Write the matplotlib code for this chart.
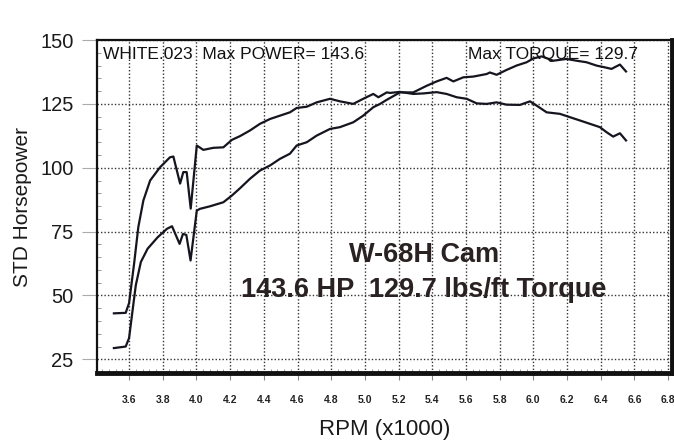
import numpy as np
import matplotlib
matplotlib.use('Agg')
import matplotlib.pyplot as plt
from matplotlib.ticker import MultipleLocator

plt.rcParams['font.family'] = ['Liberation Sans', 'DejaVu Sans']

# 扭矩曲线 (rpm x1000, lbs/ft)
torque_rpm = [3.51, 3.58, 3.60, 3.63, 3.655, 3.685, 3.725, 3.784, 3.843, 3.863,
              3.903, 3.922, 3.942, 3.966, 4.002, 4.041, 4.10, 4.16, 4.21, 4.259,
              4.318, 4.377, 4.437, 4.496, 4.555, 4.595, 4.655, 4.714, 4.793, 4.852,
              4.931, 4.99, 5.05, 5.08, 5.13, 5.149, 5.208, 5.287, 5.347, 5.426,
              5.485, 5.545, 5.604, 5.664, 5.723, 5.782, 5.841, 5.92, 5.98, 6.02,
              6.079, 6.158, 6.217, 6.277, 6.336, 6.395, 6.435, 6.474, 6.514, 6.55]
torque_val = [43.0, 43.2, 47.0, 62.5, 76.8, 87.2, 95.0, 100.2, 104.1, 104.4,
              93.8, 98.3, 98.3, 84.0, 108.7, 107.0, 107.8, 108.0, 110.9, 112.4,
              114.6, 117.2, 119.1, 120.4, 121.7, 123.4, 123.9, 125.6, 127.0, 126.0,
              125.0, 127.0, 128.9, 127.6, 129.5, 129.3, 129.7, 128.9, 129.1, 129.6,
              128.9, 127.6, 127.0, 125.2, 125.0, 125.6, 124.7, 124.6, 126.0, 124.3,
              121.7, 121.1, 119.8, 118.5, 117.2, 115.9, 113.9, 112.2, 113.5, 110.7]

# 功率曲线 (rpm x1000, HP)
power_rpm = [3.51, 3.58, 3.60, 3.62, 3.64, 3.67, 3.71, 3.77, 3.825, 3.855,
             3.90, 3.92, 3.94, 3.965, 4.002, 4.02, 4.08, 4.16, 4.21, 4.259,
             4.318, 4.377, 4.437, 4.496, 4.555, 4.595, 4.655, 4.714, 4.793, 4.852,
             4.931, 4.99, 5.05, 5.09, 5.13, 5.208, 5.287, 5.367, 5.426, 5.485,
             5.525, 5.584, 5.644, 5.723, 5.742, 5.782, 5.841, 5.90, 5.96, 6.00,
             6.05, 6.118, 6.197, 6.257, 6.316, 6.375, 6.425, 6.464, 6.514, 6.55]
power_val = [29.4, 30.0, 33.3, 43.7, 54.0, 63.1, 68.3, 72.8, 76.1, 77.1,
             70.2, 74.1, 73.7, 63.7, 83.2, 83.9, 84.9, 86.5, 89.1, 92.0,
             95.7, 98.9, 100.9, 103.5, 105.5, 108.7, 110.0, 112.6, 115.2, 115.9,
             117.8, 120.4, 123.7, 125.0, 126.6, 129.5, 129.5, 132.1, 133.8, 135.2,
             133.8, 135.4, 135.7, 136.7, 137.3, 136.4, 138.3, 140.0, 141.3, 142.8,
             143.6, 141.9, 142.6, 141.9, 141.3, 140.0, 139.3, 138.7, 140.4, 137.7]

x_ticks = [3.6, 3.8, 4.0, 4.2, 4.4, 4.6, 4.8, 5.0, 5.2, 5.4, 5.6, 5.8, 6.0, 6.2, 6.4, 6.6, 6.8]
y_ticks = [25, 50, 75, 100, 125, 150]

fig = plt.figure(figsize=(6.74, 4.4), dpi=100)
ax = fig.add_axes([0.144, 0.152, 0.853, 0.757])

line_color = '#15151f'
ax.plot(torque_rpm, torque_val, color=line_color, linewidth=1.6)
ax.plot(power_rpm, power_val, color=line_color, linewidth=1.6)

ax.set_xlim(3.41, 6.823)
ax.set_ylim(19.6, 150)
ax.set_xticks(x_ticks)
ax.set_xticklabels([f'{v:.1f}' for v in x_ticks], fontsize=7.5, fontweight='bold', color='#222222')
ax.set_yticks(y_ticks)
ax.set_yticklabels([str(v) for v in y_ticks], fontsize=14.5, color='#1a1a1a')
ax.xaxis.set_minor_locator(MultipleLocator(0.04))
ax.yaxis.set_minor_locator(MultipleLocator(5))

# 点状网格
ax.grid(True, which='major', linestyle=(0, (1, 1.5)), color='#333333', linewidth=1.0)
ax.tick_params(axis='x', which='major', length=5, pad=11, color='#888888')
ax.tick_params(axis='y', which='major', length=11, width=0.8, pad=6, color='#aaaaaa')
ax.tick_params(which='minor', direction='in', length=3, color='#888888', width=0.6)
ax.tick_params(axis='x', which='minor', top=False)

for side in ['top', 'left']:
    ax.spines[side].set_linewidth(1.6)
for side in ['bottom', 'right']:
    ax.spines[side].set_linewidth(3.5)
for s in ax.spines.values():
    s.set_color('#111111')

ax.set_xlabel('RPM (x1000)', fontsize=16, labelpad=10, color='#1a1a1a')
ax.set_ylabel('STD Horsepower', fontsize=15, labelpad=6, color='#1a1a1a')

ax.text(0.01, 0.958, 'WHITE.023  Max POWER= 143.6', transform=ax.transAxes,
        fontsize=12.5, va='center', ha='left', color='#111111')
ax.text(0.645, 0.958, 'Max TORQUE= 129.7', transform=ax.transAxes,
        fontsize=12.5, va='center', ha='left', color='#111111')

ax.text(0.569, 0.333, 'W-68H Cam', transform=ax.transAxes, fontsize=19.5,
        fontweight='bold', ha='center', va='baseline', color='#2a2222')
ax.text(0.569, 0.228, '143.6 HP  129.7 lbs/ft Torque', transform=ax.transAxes,
        fontsize=19.5, fontweight='bold', ha='center', va='baseline', color='#2a2222')

fig.savefig('out.png', dpi=100)
